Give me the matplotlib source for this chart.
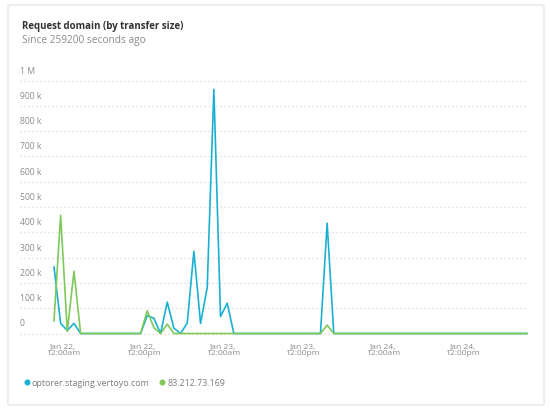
import matplotlib
matplotlib.use("Agg")
import matplotlib.pyplot as plt
import matplotlib.transforms as mtransforms
from matplotlib.patches import FancyBboxPatch
from matplotlib.lines import Line2D
import pandas as pd

plt.rcParams['font.family'] = ['Open Sans', 'DejaVu Sans']

# ---- data ----
title = "Request domain (by transfer size)"
subtitle = "Since 259200 seconds ago"
series_names = ["optorer.staging.vertoyo.com", "83.212.73.169"]
times = pd.date_range("2018-01-21 22:38", periods=72, freq="h")

blue_values = [263000, 40000, 12000, 40000, 0, 0, 0, 0, 0, 0,
               0, 0, 0, 0, 71000, 60000, 0, 124000, 21000, 0,
               41000, 325000, 40000, 182000, 965000, 67000, 120000, 0, 0, 0,
               0, 0, 0, 0, 0, 0, 0, 0, 0, 0,
               0, 436000, 0, 0, 0, 0, 0, 0, 0, 0,
               0, 0, 0, 0, 0, 0, 0, 0, 0, 0,
               0, 0, 0, 0, 0, 0, 0, 0, 0, 0,
               0, 0]
green_values = [50000, 467000, 8000, 246000, 0, 0, 0, 0, 0, 0,
                0, 0, 0, 0, 90000, 23000, 0, 37000, 0, 0,
                0, 0, 0, 0, 0, 0, 0, 0, 0, 0,
                0, 0, 0, 0, 0, 0, 0, 0, 0, 0,
                0, 33000, 0, 0, 0, 0, 0, 0, 0, 0,
                0, 0, 0, 0, 0, 0, 0, 0, 0, 0,
                0, 0, 0, 0, 0, 0, 0, 0, 0, 0,
                0, 0]

y_ticks = [0, 100000, 200000, 300000, 400000, 500000, 600000, 700000, 800000, 900000, 1000000]
y_tick_labels = ["0", "100 k", "200 k", "300 k", "400 k", "500 k", "600 k", "700 k", "800 k", "900 k", "1 M"]
x_tick_times = pd.to_datetime(["2018-01-22 00:00", "2018-01-22 12:00", "2018-01-23 00:00",
                               "2018-01-23 12:00", "2018-01-24 00:00", "2018-01-24 12:00"])
x_tick_labels = ["Jan 22,\n12:00am", "Jan 22,\n12:00pm", "Jan 23,\n12:00am",
                 "Jan 23,\n12:00pm", "Jan 24,\n12:00am", "Jan 24,\n12:00pm"]

blue = "#1bb0d2"
green = "#7ec95a"
label_gray = "#8c8c8c"

W, H = 550, 412
fig = plt.figure(figsize=(W / 100, H / 100), dpi=100)
fig.patch.set_facecolor("white")

# card
card = FancyBboxPatch((8 / W, 1 - 405 / H), (544 - 8) / W, (405 - 5) / H,
                      boxstyle="round,pad=0,rounding_size=0.004",
                      transform=fig.transFigure, facecolor="white",
                      edgecolor="#e6e6e6", linewidth=1.0, zorder=-5)
fig.patches.append(card)

ax_left, ax_right = 20 / W, 527 / W
ax_bottom, ax_top = 1 - 333.5 / H, 1 - 80.5 / H
ax = fig.add_axes([ax_left, ax_bottom, ax_right - ax_left, ax_top - ax_bottom])
ax.set_facecolor("none")
ax.set_zorder(2)

ax.plot(times, blue_values, color=blue, lw=1.2, zorder=3, clip_on=False)
ax.plot(times, green_values, color=green, lw=1.2, zorder=4, clip_on=False)

ax.set_ylim(0, 1000000)
ax.set_xlim(times[0] - pd.Timedelta(hours=5.1), times[-1])

for s in ax.spines.values():
    s.set_visible(False)

ax.set_yticks(y_ticks)
ax.set_yticklabels([])
ax.tick_params(axis="y", length=0)
ax.grid(axis="y", color="#d9d9d9", linestyle=(0, (1, 2.2)), linewidth=0.9)
ax.set_axisbelow(True)
for gl in ax.get_ygridlines():
    gl.set_clip_on(False)

offset = mtransforms.ScaledTranslation(0, 9.5 / 100, fig.dpi_scale_trans)
for v, lab in zip(y_ticks, y_tick_labels):
    ax.text(0, v, lab, transform=ax.get_yaxis_transform() + offset,
            ha="left", va="center", fontsize=6.2, color=label_gray)

ax.set_xticks(x_tick_times)
ax.set_xticklabels(x_tick_labels, fontsize=6.1, color=label_gray, linespacing=0.95)
ax.tick_params(axis="x", length=0, pad=7)

fig.text(22 / W, 1 - 27 / H, title, fontsize=7.05, fontweight="bold",
         color="#333333", ha="left", va="center")
fig.text(22 / W, 1 - 41 / H, subtitle, fontsize=7.3, color="#8a8a8a",
         ha="left", va="center")

handles = [Line2D([], [], marker="o", linestyle="none", markersize=3.3,
                  markerfacecolor=c, markeredgecolor=c) for c in (blue, green)]
leg = fig.legend(handles, series_names, loc="center left",
                 bbox_to_anchor=(24 / W, 1 - 383 / H), frameon=False,
                 fontsize=6.4, handlelength=0.6, handletextpad=0.3,
                 columnspacing=1.1, ncol=2, borderaxespad=0, borderpad=0)
for t in leg.get_texts():
    t.set_color("#7d7d7d")

fig.savefig("out.png", dpi=100, facecolor="white")
